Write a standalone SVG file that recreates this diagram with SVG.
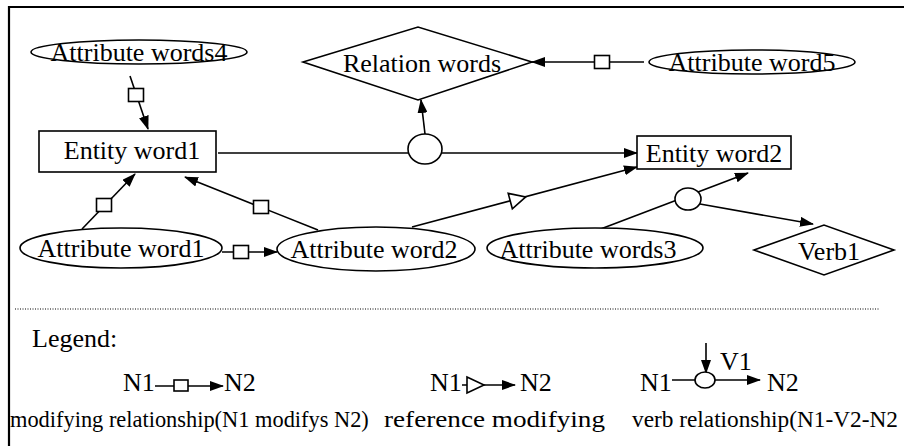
<svg xmlns="http://www.w3.org/2000/svg" width="904" height="446" viewBox="0 0 904 446">
<style>
text{font-family:"Liberation Serif","Times New Roman",serif;font-size:26px;fill:#000}
.lbl{text-anchor:middle}
.shape{fill:#fff;stroke:#000;stroke-width:1.6}
.edge{fill:none;stroke:#000;stroke-width:1.6}
.arr{marker-end:url(#ah)}
.mark{fill:#fff;stroke:#000;stroke-width:1.6}
text.c1{font-size:22.4px}
text.c2{font-size:23.3px}
text.c3{font-size:23.3px}
</style>
<defs>
<marker id="ah" markerUnits="userSpaceOnUse" markerWidth="14" markerHeight="10" refX="13" refY="5" orient="auto" viewBox="0 0 14 10">
<path d="M0,0 L14,5 L0,10 z" fill="#000"/>
</marker>
</defs>
<rect width="904" height="446" fill="#fff"/>
<path d="M9,446 V7 H904" fill="none" stroke="#000" stroke-width="2.2"/>

<g id="connectors">
<line class="edge arr" x1="130" y1="76" x2="148" y2="129"/>
<rect class="mark" x="128.5" y="88.5" width="15" height="13"/>
<line class="edge arr" x1="82" y1="229" x2="135" y2="174"/>
<rect class="mark" x="96.5" y="198.5" width="15" height="13"/>
<line class="edge arr" x1="318" y1="230" x2="185" y2="177"/>
<rect class="mark" x="253.5" y="200.5" width="15" height="13"/>
<line class="edge arr" x1="222" y1="252" x2="277" y2="252"/>
<rect class="mark" x="233.5" y="245.5" width="15" height="13"/>
<line class="edge arr" x1="644" y1="62" x2="532" y2="62"/>
<rect class="mark" x="594.5" y="55.5" width="15" height="13"/>
<line class="edge arr" x1="218" y1="153" x2="637" y2="153"/>
<line class="edge arr" x1="425" y1="134" x2="421" y2="100"/>
<ellipse class="mark" cx="425" cy="149" rx="17" ry="15"/>
<line class="edge arr" x1="412" y1="227" x2="637" y2="167"/>
<polygon class="mark" points="510,191 526,199 510,207" transform="rotate(-15 518 199)"/>
<line class="edge arr" x1="598" y1="230" x2="748" y2="173"/>
<line class="edge arr" x1="700" y1="204" x2="813" y2="224"/>
<ellipse class="mark" cx="688" cy="199" rx="13" ry="11"/>
</g>

<g id="attr4">
<ellipse class="shape" cx="139" cy="52" rx="108" ry="12"/>
<text class="lbl" x="139" y="61">Attribute words4</text>
</g>
<g id="relation">
<polygon class="shape" points="303,62 418,27 532,62 418,100"/>
<text class="lbl" x="422" y="72">Relation words</text>
</g>
<g id="attr5">
<ellipse class="shape" cx="752" cy="62" rx="103" ry="12"/>
<text class="lbl" x="752" y="71">Attribute word5</text>
</g>
<g id="entity1">
<rect class="shape" x="39" y="131" width="177" height="41"/>
<text class="lbl" x="132" y="159">Entity word1</text>
</g>
<g id="entity2">
<rect class="shape" x="637" y="136" width="154" height="33"/>
<text class="lbl" x="714" y="162">Entity word2</text>
</g>
<g id="attr1">
<ellipse class="shape" cx="121" cy="248" rx="101" ry="20"/>
<text class="lbl" x="121" y="257">Attribute word1</text>
</g>
<g id="attr2">
<ellipse class="shape" cx="376" cy="249" rx="99" ry="22"/>
<text class="lbl" x="374" y="258">Attribute word2</text>
</g>
<g id="attr3">
<ellipse class="shape" cx="595" cy="248" rx="108" ry="20"/>
<text class="lbl" x="588" y="258">Attribute words3</text>
</g>
<g id="verb1">
<polygon class="shape" points="754,250 824,225 894,250 824,275"/>
<text class="lbl" x="829" y="260">Verb1</text>
</g>

<g id="legend">
<line x1="15" y1="309" x2="879" y2="309" stroke="#000" stroke-width="1" stroke-dasharray="1 1.5"/>
<text x="32" y="347">Legend:</text>
<text x="123" y="391">N1</text>
<line class="edge arr" x1="155" y1="386" x2="223" y2="386"/>
<rect class="mark" x="174" y="380" width="14" height="11"/>
<text x="224" y="391">N2</text>
<text x="430" y="391">N1</text>
<line class="edge arr" x1="462" y1="385" x2="515" y2="385"/>
<polygon class="mark" points="467,377 484,385 467,393"/>
<text x="520" y="391">N2</text>
<text x="640" y="391">N1</text>
<line class="edge arr" x1="672" y1="380" x2="760" y2="380"/>
<line class="edge arr" x1="706" y1="343" x2="706" y2="373"/>
<ellipse class="mark" cx="705" cy="380" rx="10" ry="8"/>
<text x="720" y="370">V1</text>
<text x="767" y="391">N2</text>
<text class="c1" x="10" y="427">modifying relationship(N1 modifys N2)</text>
<text class="c2" x="384" y="427" textLength="221" lengthAdjust="spacingAndGlyphs">reference modifying</text>
<text class="c3" x="632" y="427">verb relationship(N1-V2-N2</text>
</g>
</svg>
